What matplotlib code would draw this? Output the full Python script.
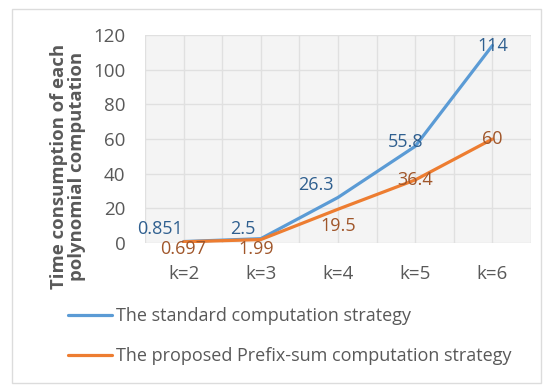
import matplotlib.pyplot as plt
from matplotlib.patches import Rectangle

# data ------------------------------------------------------------------------
categories = ["k=2", "k=3", "k=4", "k=5", "k=6"]
standard = [0.851, 2.5, 26.3, 55.8, 114]
prefix_sum = [0.697, 1.99, 19.5, 36.4, 60]
series_names = ["The standard computation strategy",
                "The proposed Prefix-sum computation strategy"]
y_ticks = [0, 20, 40, 60, 80, 100, 120]

# label offsets (points) for each data label
std_offsets = [(-17, 9), (-13, 7), (-16, 9), (-7, 3), (0, 0)]
pre_offsets = [(0, -5), (-3, -7), (0, -12), (0, 0), (0, 0)]

plt.rcParams['font.family'] = ['Open Sans', 'DejaVu Sans']
grey = '#595959'
blue = '#5b9bd5'
orange = '#ed7d31'

fig = plt.figure(figsize=(5.44, 3.85), dpi=100)
ax = fig.add_axes([0.2665, 0.3688, 0.7096, 0.540])
ax.set_facecolor('#f4f4f4')

x = list(range(len(categories)))
ax.plot(x, standard, color=blue, lw=2.3, solid_capstyle='round', zorder=3,
        label=series_names[0])
ax.plot(x, prefix_sum, color=orange, lw=2.3, solid_capstyle='round', zorder=3,
        label=series_names[1])

for i in x:
    ax.annotate(str(standard[i]), (i, standard[i]), xytext=std_offsets[i],
                textcoords='offset points', ha='center', va='center',
                fontsize=13, color='#2f5f8f', zorder=4)
    ax.annotate(str(prefix_sum[i]), (i, prefix_sum[i]), xytext=pre_offsets[i],
                textcoords='offset points', ha='center', va='center',
                fontsize=13, color='#a0562a', zorder=4)

ax.set_xlim(-0.5, len(categories) - 0.5)
ax.set_ylim(0, 120)
ax.set_yticks(y_ticks)
ax.set_xticks(x)
ax.set_xticklabels(categories)
ax.set_xticks([i - 0.5 for i in range(len(categories) + 1)], minor=True)
ax.tick_params(which='both', length=0, labelsize=13.5, labelcolor=grey)
ax.tick_params(axis='x', pad=16)
ax.tick_params(axis='y', pad=14)
ax.grid(True, which='both', color='#e0e0e0', lw=1, zorder=0)
ax.grid(True, which='major', axis='x', color='#e0e0e0', lw=1, zorder=0)
for s in ax.spines.values():
    s.set_visible(False)

ax.set_ylabel("Time consumption of each\npolynomial computation",
              fontsize=13.3, fontweight='bold', color=grey, linespacing=1.05)
ax.yaxis.set_label_coords(-0.152, 0.37)

fig.legend(loc='upper left', bbox_to_anchor=(0.125, 0.203), frameon=False,
           handlelength=2.45, handletextpad=0.22, labelspacing=1.25,
           fontsize=13, labelcolor=grey, borderaxespad=0, borderpad=0)

# light frame round the whole chart
fig.add_artist(Rectangle((12 / 544, 2 / 385), 529 / 544, 374 / 385,
                         transform=fig.transFigure, fill=False,
                         edgecolor='#dcdcdc', lw=1))

fig.savefig("out.png", dpi=100)
